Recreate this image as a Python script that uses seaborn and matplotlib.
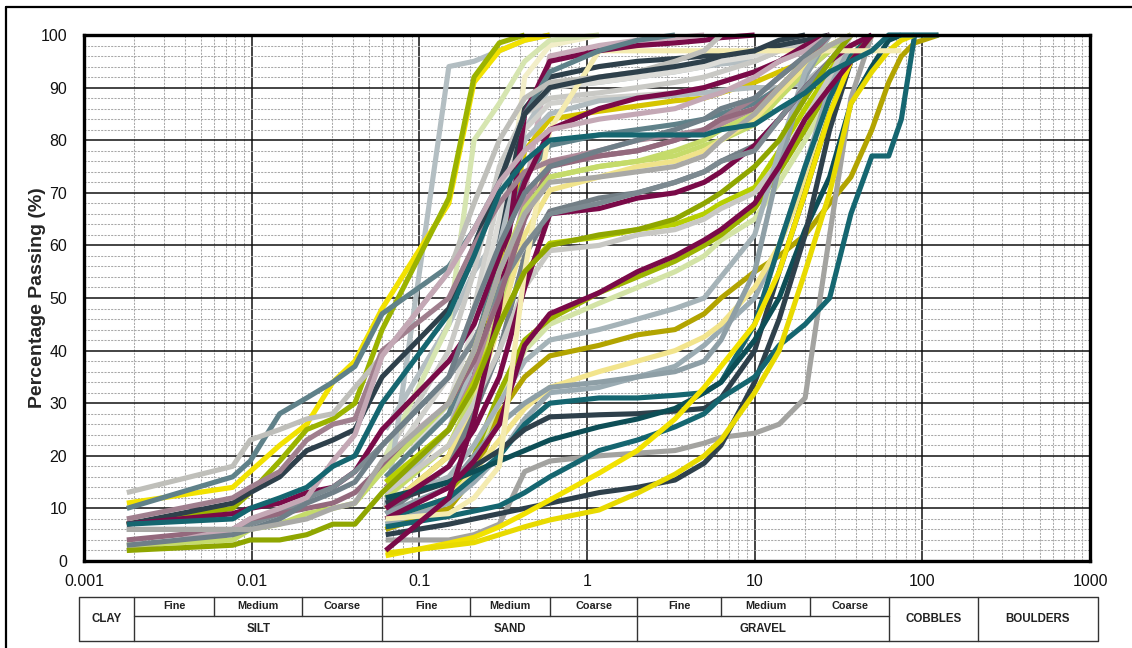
import numpy as np
import pandas as pd
import matplotlib
matplotlib.use("Agg")
import matplotlib.pyplot as plt
import seaborn as sns
from matplotlib.lines import Line2D
from matplotlib.ticker import FixedLocator, NullFormatter, MultipleLocator

# ---------------- data ----------------
HYD_SIZES = [0.0018, 0.0077, 0.0098, 0.0147, 0.0213, 0.0305, 0.0413, 0.06]
SIEVE_SIZES = [0.063, 0.15, 0.212, 0.3, 0.425, 0.6, 1.18, 2, 3.35, 5, 6.3,
               10, 14, 20, 28, 37.5, 50, 63, 75, 90, 125]

# hydrometer + sieve samples: hydrometer passing, then sieve passing from 0.15 mm
H01_HYD = [11, 14, 17, 22, 26, 34, 38, 48];  H01_SV = [68, 91, 97, 99, 100]
H02_HYD = [7, 10, 13, 19, 25, 27, 30, 44];   H02_SV = [69, 92, 98.5, 100]
H03_HYD = [10, 16, 19, 28, 31, 34, 37, 47];  H03_SV = [56, 63, 72, 85, 93, 97, 99, 100]
H04_HYD = [13, 18, 23, 25, 27, 28, 33, 39];  H04_SV = [55, 68, 80, 88, 91, 92, 93, 95, 97, 100]
H05_HYD = [7, 11, 13, 16, 21, 23, 25, 35];   H05_SV = [48, 60, 72, 85, 90, 92, 93, 94, 95, 96, 97, 99, 100]
H06_HYD = [8, 12, 14, 17, 23, 26, 27, 40];   H06_SV = [50, 60, 68, 74, 76, 77, 78, 80, 82, 84, 88, 92, 96, 100]
H07_HYD = [7, 8, 10, 12, 14, 18, 20, 30];    H07_SV = [47, 58, 70, 76, 80, 81, 81, 81, 81, 82, 83, 86, 89, 93, 95, 97, 100, 100, 100, 100]
H08_HYD = [7, 9, 10, 11, 13, 14, 17, 25];    H08_SV = [38, 45, 58, 72, 82, 86, 88, 89, 90, 91, 93, 95, 98, 100]
H09_HYD = [6, 6, 7, 9, 12, 14, 17, 22];      H09_SV = [35, 42, 52, 60, 66, 68, 70, 72, 74, 76, 78, 84, 90, 95, 100]
H10_HYD = [4, 6, 8, 9, 10, 11, 13, 18];      H10_SV = [30, 38, 50, 65, 75, 77, 78, 80, 82, 84, 86, 90, 95, 100]
H11_HYD = [2, 6, 8, 10, 12, 19, 24, 39];     H11_SV = [55, 63, 72, 78, 82, 84, 85, 86, 88, 89, 92, 95, 97, 100]
H12_HYD = [3, 4, 6, 7, 9, 10, 11, 17];       H12_SV = [30, 40, 55, 67, 73, 75, 76, 78, 80, 82, 85, 90, 95, 98, 100]
H13_HYD = [2, 3, 4, 4, 5, 7, 7, 13];         H13_SV = [25, 33, 45, 55, 60, 62, 63, 65, 68, 70, 75, 80, 88, 95, 100]
H14_HYD = [3, 5, 6, 8, 11, 13, 15, 22];      H14_SV = [35, 48, 60, 70, 75, 78, 80, 82, 84, 86, 88, 92, 96, 100]
H15_HYD = [6, 6, 6, 7, 8, 10, 11, 19];       H15_SV = [30, 40, 55, 66, 72, 73, 74, 75, 77, 80, 85, 90, 95, 98, 100]

# sieve-only samples: passing from 0.063 mm upward
S01 = [2, 12, 27, 48, 85, 95, 97, 98, 98.5, 99, 99.5, 100]
S02 = [10, 18, 25, 35, 52, 66, 67, 69, 70, 72, 74, 79, 84, 90, 95, 98, 100]
S03 = [8, 14, 19, 26, 41, 47, 51, 55, 58, 61, 63, 68, 75, 84, 90, 95, 100]
S04 = [10, 94, 95, 97, 99, 100]
S05 = [20, 45, 80, 87, 95, 99, 100]
S06 = [20, 40, 55, 75, 85, 88, 89, 90, 91, 92, 93, 95, 97, 98, 100]
S07 = [15, 30, 45, 65, 86, 90, 91, 92, 93, 94, 95, 96, 98, 100]
S08 = [8, 9, 12, 18, 55, 82, 97, 97, 97, 97, 97, 97, 97, 97, 97, 97, 97, 97, 97]
S09 = [14, 25, 35, 60, 86, 92, 94, 95, 95.5, 96, 96.5, 97, 98, 99, 100]
S10 = [10, 20, 32, 55, 78, 84, 85.5, 86.5, 87.5, 88, 89, 91, 93, 95, 98, 100]
S11 = [12, 25, 38, 60, 80, 85, 87.5, 88, 88.5, 89, 89.5, 90, 90, 91, 95, 100]
S12 = [16, 28, 40, 58, 73, 79, 81, 82, 83, 84, 85, 87, 90, 94, 97, 100]
S13 = [14, 25, 35, 52, 68, 76, 78, 80, 81, 82, 83, 86, 89, 93, 97, 100]
S14 = [12, 22, 32, 48, 66, 73, 75, 76, 77, 79, 80, 83, 88, 93, 97, 100]
S15 = [10, 20, 30, 45, 62, 70.5, 73, 75, 76, 78, 80, 84, 89, 94, 98, 100]
S16 = [9, 18, 28, 40, 58, 66.5, 69, 70, 72, 74, 76, 79, 84, 90, 95, 100]
S17 = [15, 25, 34, 45, 55, 60.4, 61.6, 63, 64, 66, 68, 71, 78, 86, 93, 100]
S18 = [13, 22, 30, 40, 52, 59, 60, 62, 63, 65, 67, 70, 76, 84, 92, 100]
S19 = [6, 12, 20, 32, 42, 46, 51, 54, 57, 60, 62, 67, 74, 82, 90, 96, 100]
S20 = [7, 12, 18, 30, 40, 45, 49, 52, 55, 58, 61, 65, 72, 80, 88, 95, 100]
S21 = [6, 10, 16, 28, 35, 39, 41, 43, 44, 47, 50, 55, 58, 62, 68, 73, 82, 91, 96, 98.5, 100]
S22 = [8, 12, 17, 23, 29, 33, 36, 38, 40, 42.6, 45, 52, 60, 72, 85, 95, 100]
S23 = [7, 11, 15, 20, 27, 32, 33, 35, 37, 41, 44, 50, 60, 75, 90, 98, 100]
S24 = [8, 12, 16, 20, 26, 30, 31, 31, 31.5, 32, 34, 45, 60, 75, 88, 96, 100]
S25 = [11, 15, 18, 21, 25, 27.4, 27.8, 28, 28.5, 29, 31, 40, 55, 70, 85, 95, 100]
S26 = [12, 15, 17, 19, 21, 23, 25.5, 27, 29, 32, 34, 42, 50, 63, 73, 87, 94, 99, 100]
S27 = [4, 4, 5, 7, 17, 19, 20, 20.5, 21, 22.4, 23.5, 24.3, 26, 31, 62, 88, 100]
S28 = [6.5, 8.5, 9.5, 10.5, 13, 16, 21, 23, 25.5, 28, 31, 35, 41, 45, 50, 66, 77, 77, 84, 100]
S29 = [5, 7, 8, 9, 10, 11, 13, 14, 15.4, 18.6, 22, 34, 46, 62, 82, 95, 100]
S30 = [1.5, 2.9, 3.5, 5, 6.5, 7.8, 9.7, 12.9, 16.5, 20, 23, 32, 40, 55, 70, 87, 93, 97, 99, 100]
S31 = [1, 3.4, 4.5, 6.5, 9, 11.6, 16.7, 21, 27, 33, 37, 45, 55, 70, 85, 95, 100]
S32 = [9, 14, 20, 26, 30, 33, 34, 35, 36, 38, 42, 55, 75, 92, 100]
S33 = [11, 16, 22, 30, 38, 42, 44, 46, 48, 50, 54, 62, 78, 93, 100]
S34 = [18, 35, 48, 70, 82, 87, 88, 88.5, 89, 90, 91, 93, 95, 97, 100]
S35 = [11, 25, 40, 55, 92, 98, 100]
S36 = [20, 30, 38, 45, 70, 96, 98, 99, 99.5, 100]
S37 = [25, 45, 55, 62, 82, 90, 91, 92, 93, 94, 94.5, 95, 97, 100]

HYD_SAMPLES = [("H01", "#F2E200", H01_HYD, H01_SV), ("H02", "#9BB300", H02_HYD, H02_SV),
               ("H03", "#5F8189", H03_HYD, H03_SV), ("H04", "#BFBFBA", H04_HYD, H04_SV),
               ("H05", "#2E404B", H05_HYD, H05_SV), ("H06", "#A07F8E", H06_HYD, H06_SV),
               ("H08", "#7A0A48", H08_HYD, H08_SV), ("H09", "#7D8A91", H09_HYD, H09_SV),
               ("H10", "#94697D", H10_HYD, H10_SV), ("H11", "#C4A8B5", H11_HYD, H11_SV),
               ("H12", "#C5DB6A", H12_HYD, H12_SV), ("H13", "#8FA600", H13_HYD, H13_SV),
               ("H14", "#6F7F88", H14_HYD, H14_SV), ("H15", "#A9A9A6", H15_HYD, H15_SV),
               ("H07", "#156670", H07_HYD, H07_SV)]

SIEVE_SAMPLES = [("S35", "#F2EEC8", S35), ("S36", "#C9AEBB", S36), ("S37", "#B4BEC2", S37),
                 ("S34", "#D0D0CC", S34), ("S06", "#C9C9C5", S06), ("S07", "#DCDCD8", S07),
                 ("S05", "#D6E5B0", S05), ("S04", "#B3BEC2", S04), ("S09", "#2E404B", S09),
                 ("S10", "#D6C500", S10), ("S11", "#B0BBBF", S11), ("S12", "#5F8189", S12),
                 ("S13", "#B08C9B", S13), ("S14", "#C5DB6A", S14), ("S15", "#F0E38A", S15),
                 ("S16", "#737F86", S16), ("S17", "#B7CF00", S17), ("S18", "#C8C8C4", S18),
                 ("S20", "#D3E3A6", S20), ("S19", "#9BB300", S19), ("S21", "#B2A400", S21),
                 ("S23", "#9AABB2", S23), ("S22", "#F2E48C", S22), ("S32", "#8E9FA6", S32),
                 ("S33", "#A5B3B8", S33), ("S24", "#156670", S24), ("S25", "#2E404B", S25),
                 ("S26", "#0D4E56", S26), ("S27", "#A3A3A0", S27), ("S29", "#2E404B", S29),
                 ("S28", "#156670", S28), ("S31", "#F2E200", S31), ("S30", "#E8DA00", S30),
                 ("S02", "#7A0A48", S02), ("S03", "#7A0A48", S03), ("S08", "#F4EBB0", S08),
                 ("S01", "#7A0A48", S01)]

# classification table (class boundaries in mm)
TABLE_EDGES = [0.000934, 0.002, 0.006, 0.02, 0.06, 0.2, 0.6, 2, 6.3, 21.5, 63, 215, 1113]
FULL_EDGES = [0.000934, 0.002, 0.06, 2, 63, 215, 1113]
SUB_LABELS = ["Fine", "Medium", "Coarse"] * 3
MAIN_CLASSES = ["SILT", "SAND", "GRAVEL"]
TALL_CLASSES = [("CLAY", 0.000934, 0.002), ("COBBLES", 63, 215), ("BOULDERS", 215, 1113)]

X_TICKS = [0.001, 0.01, 0.1, 1, 10, 100, 1000]
X_TICK_LABELS = ["0.001", "0.01", "0.1", "1", "10", "100", "1000"]

# ---------------- build long table ----------------
rows = []
order = []
palette = {}
for name, color, sv in SIEVE_SAMPLES:
    for d, p in zip(SIEVE_SIZES, sv):
        rows.append((name, d, p))
    order.append(name); palette[name] = color
for name, color, hyd, sv in HYD_SAMPLES:
    for d, p in zip(HYD_SIZES, hyd):
        rows.append((name, d, p))
    for d, p in zip(SIEVE_SIZES[1:], sv):
        rows.append((name, d, p))
    order.append(name); palette[name] = color
df = pd.DataFrame(rows, columns=["sample", "size", "passing"])

# ---------------- figure ----------------
sns.set_style("white")
plt.rcParams["font.family"] = ["Liberation Sans", "DejaVu Sans"]

W, H = 1132, 648
fig = plt.figure(figsize=(W / 100, H / 100), dpi=100)
L, R, T, B = 84, 1090, 35, 561
ax = fig.add_axes([L / W, 1 - B / H, (R - L) / W, (B - T) / H])

ax.set_xscale("log")
ax.set_xlim(0.001, 1000)
ax.set_ylim(0, 100)

# grid
ax.xaxis.set_major_locator(FixedLocator(X_TICKS))
minors = [m * 10.0 ** e for e in range(-3, 3) for m in range(2, 10)]
ax.xaxis.set_minor_locator(FixedLocator(minors))
ax.xaxis.set_minor_formatter(NullFormatter())
ax.yaxis.set_major_locator(MultipleLocator(10))
ax.yaxis.set_minor_locator(MultipleLocator(2))
ax.grid(which="minor", color="#a8a8a8", linestyle=(0, (2.0, 1.2)), linewidth=0.75, zorder=0)
ax.grid(which="major", color="#111111", linestyle="-", linewidth=1.1, zorder=1)
ax.set_axisbelow(True)

sns.lineplot(data=df, x="size", y="passing", hue="sample", hue_order=order,
             palette=palette, estimator=None, sort=False, legend=False,
             linewidth=3.7, ax=ax)
for ln in ax.get_lines():
    ln.set_solid_joinstyle("round")
    ln.set_solid_capstyle("butt")
    ln.set_clip_on(False)
    ln.set_zorder(3)

ax.set_xticks(X_TICKS)
ax.set_xticklabels(X_TICK_LABELS)
ax.tick_params(axis="x", which="major", length=4, width=1, direction="out",
               labelsize=11.5, pad=5, colors="#111111")
ax.tick_params(axis="x", which="minor", length=0)
ax.tick_params(axis="y", which="both", length=0, labelsize=11.5, pad=12, colors="#111111")
ax.set_xlabel("")
ax.set_ylabel("Percentage Passing (%)", fontsize=14, fontweight="bold", labelpad=-4)
for s in ax.spines.values():
    s.set_color("#000000")
    s.set_linewidth(2.4)
    s.set_zorder(4)

# ---------------- classification table ----------------
tab = fig.add_axes([L / W, 1 - 641 / H, (R - L) / W, 44 / H])
tab.set_xscale("log")
tab.set_xlim(0.001, 1000)
tab.set_ylim(641, 597)
tab.axis("off")
lc = "#333333"
lw = 1.0
x0, x1 = TABLE_EDGES[0], TABLE_EDGES[-1]
for yv in (597, 641):
    tab.plot([x0, x1], [yv, yv], color=lc, lw=lw, clip_on=False, solid_capstyle="butt")
tab.plot([0.002, 63], [616, 616], color=lc, lw=lw, clip_on=False)
for e in TABLE_EDGES:
    y_bottom = 641 if e in FULL_EDGES else 616
    tab.plot([e, e], [597, y_bottom], color=lc, lw=lw, clip_on=False)

for i, lab in enumerate(SUB_LABELS):
    a, b = TABLE_EDGES[i + 1], TABLE_EDGES[i + 2]
    tab.text(np.sqrt(a * b), 606, lab, ha="center", va="center",
             fontsize=7.8, fontweight="bold", color="#222222", clip_on=False)
for i, lab in enumerate(MAIN_CLASSES):
    a, b = [0.002, 0.06, 2][i], [0.06, 2, 63][i]
    tab.text(np.sqrt(a * b), 628.5, lab, ha="center", va="center",
             fontsize=8.3, fontweight="bold", color="#222222", clip_on=False)
for lab, a, b in TALL_CLASSES:
    tab.text(np.sqrt(a * b), 619, lab, ha="center", va="center",
             fontsize=8.3, fontweight="bold", color="#222222", clip_on=False)

# outer frame (left and top edges visible)
fig.add_artist(Line2D([6 / W, 6 / W], [0, 1 - 7 / H], transform=fig.transFigure,
                      color="black", lw=1.6))
fig.add_artist(Line2D([6 / W, 1], [1 - 7 / H, 1 - 7 / H], transform=fig.transFigure,
                      color="black", lw=1.6))

fig.savefig("out.png", dpi=100, facecolor="white")
